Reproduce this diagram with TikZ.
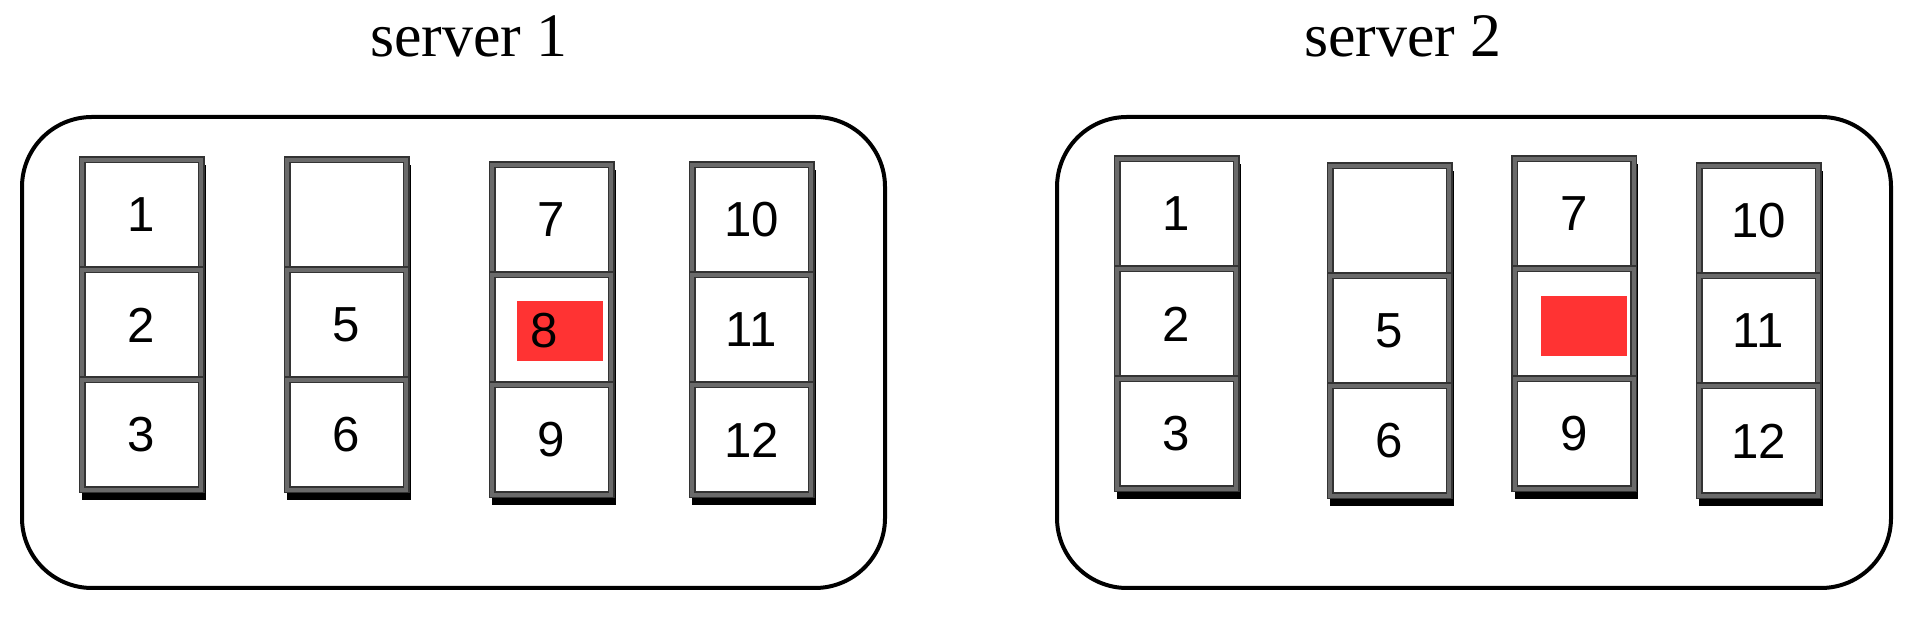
\documentclass[tikz,border=0pt]{standalone}
\usepackage{fontspec}
\setmainfont{Liberation Serif}[Numbers=OldStyle]
\newfontfamily\digitfont{Liberation Sans}
\usetikzlibrary{positioning,calc,backgrounds}
\definecolor{hotred}{HTML}{FF3333}
\definecolor{railgray}{HTML}{6A6A6A}

\begin{document}
\begin{tikzpicture}[
      slot/.style={draw=black!80, double=railgray, double distance=0.04cm, line width=0.015cm,
        fill=white, minimum width=1.19cm, minimum height=1.1cm, inner sep=0pt, outer sep=0pt,
        font=\digitfont\fontsize{14}{16}\selectfont},
      hot/.style={fill=hotred, minimum width=0.86cm, minimum height=0.6cm, inner sep=0pt,
        font=\digitfont\fontsize{14}{16}\selectfont},
      rack/.style={draw, line width=0.04cm, rounded corners=0.7cm},
      title/.style={font=\fontsize{17.6}{20}\selectfont, anchor=base}]
    \useasboundingbox (0,0) rectangle (19.32,6.24);
    % server boxes
    \draw[rack] (0.22,0.36) rectangle (8.85,5.07);
    \draw[rack] (10.57,0.36) rectangle (18.91,5.07);
    \node[title] (title1) at (4.69,5.67) {server 1};
    \node[title] (title2) at (14.03,5.67) {server 2};
    % columns of slots
    \foreach \s/\x/\y/\n in {1/1.415/4.64/1, 1/3.465/4.64/4, 1/5.515/4.59/7, 1/7.515/4.59/10,
                             2/11.765/4.65/1, 2/13.895/4.58/4, 2/15.74/4.65/7, 2/17.585/4.58/10}
    {
      \pgfmathtruncatemacro\m{\n+1}
      \pgfmathtruncatemacro\k{\n+2}
      \node[slot, anchor=north] (s\s c\n) at (\x,\y) {\ifnum\n=4 \else\n\fi};
      \node[slot, below=0pt of s\s c\n] (s\s c\m) {\ifnum\m=8 \else\m\fi};
      \node[slot, below=0pt of s\s c\m] (s\s c\k) {\k};
      \begin{scope}[on background layer]
        \fill ($(s\s c\n.north west)+(0,-0.05)$) rectangle ($(s\s c\k.south east)+(0.045,-0.1)$);
      \end{scope}
    }
    % failed slot
    \node[hot, text width=0.60cm, inner xsep=0.13cm, align=left] (s1hot) at ($(s1c8)+(0.085,-0.01)$) {8};
    \node[hot] (s2hot) at ($(s2c8)+(0.095,-0.02)$) {};
\end{tikzpicture}
\end{document}
